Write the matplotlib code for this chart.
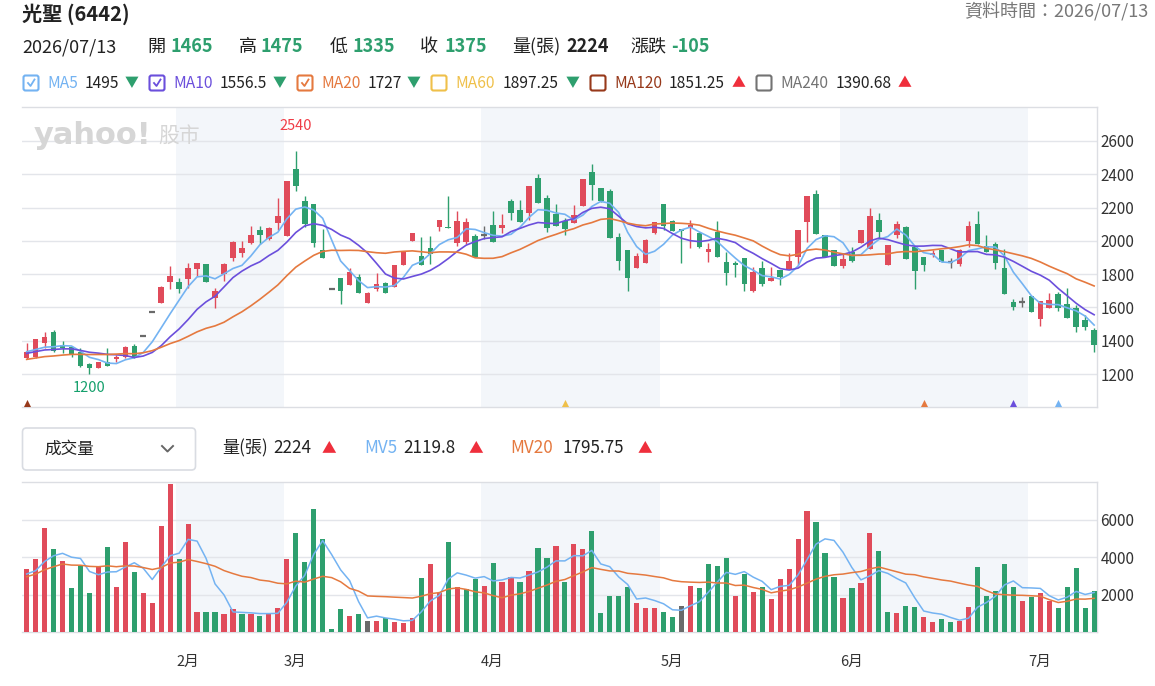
import numpy as np
import pandas as pd
import matplotlib
matplotlib.use("Agg")
import matplotlib.pyplot as plt
from matplotlib.patches import FancyBboxPatch
from matplotlib.lines import Line2D
from matplotlib.transforms import IdentityTransform, blended_transform_factory

plt.rcParams['font.family'] = ['Noto Sans CJK TC', 'DejaVu Sans']

# daily K-line 光聖 (6442), 2026/01 .. 2026/07/13
opens = [1298, 1304, 1384, 1454, 1374, 1360, 1334, 1258, 1238, 1272,
         1288, 1304, 1370, 1430, 1570, 1628, 1754, 1750, 1770, 1830,
         1858, 1658, 1800, 1898, 1930, 1988, 2068, 2014, 2108, 2030,
         2434, 2238, 2224, 1948, 1710, 1774, 1732, 1782, 1628, 1708,
         1744, 1724, 1852, 2000, 1908, 1960, 2084, 2086, 1988, 1992,
         2028, 2034, 2096, 2076, 2238, 2188, 2168, 2380, 2260, 2164,
         2120, 2110, 2208, 2414, 2320, 2300, 2024, 1948, 1834, 1868,
         2048, 2224, 2120, 2072, 2080, 2050, 1934, 2052, 1870, 1864,
         1894, 1700, 1834, 1760, 1824, 1828, 1900, 2114, 2284, 2034,
         1948, 1850, 1934, 1988, 1950, 2128, 1854, 2034, 2084, 1964,
         1904, 1914, 1948, 1870, 1858, 2000, 2104, 1970, 1984, 1834,
         1630, 1634, 1668, 1530, 1594, 1678, 1618, 1594, 1524, 1465]
highs = [1384, 1410, 1450, 1464, 1400, 1364, 1354, 1268, 1274, 1354,
         1314, 1368, 1378, 1430, 1570, 1730, 1850, 1774, 1864, 1868,
         1858, 1714, 1864, 1998, 1998, 2088, 2088, 2084, 2260, 2360,
         2540, 2268, 2224, 2074, 1710, 1774, 1838, 1798, 1690, 1804,
         1754, 1856, 1934, 2050, 2024, 2028, 2128, 2268, 2180, 2140,
         2044, 2088, 2180, 2164, 2252, 2248, 2330, 2404, 2274, 2224,
         2140, 2218, 2374, 2464, 2320, 2314, 2050, 1948, 1930, 2014,
         2116, 2224, 2128, 2074, 2128, 2054, 1988, 2120, 1934, 1878,
         1894, 1844, 1878, 1844, 1824, 1930, 2068, 2268, 2308, 2034,
         1948, 1930, 1964, 2068, 2200, 2170, 1978, 2120, 2090, 1964,
         1904, 1948, 1948, 1894, 1954, 2120, 2180, 2038, 1994, 1954,
         1648, 1660, 1668, 1638, 1684, 1690, 1714, 1614, 1554, 1475]
lows = [1288, 1294, 1354, 1334, 1328, 1300, 1244, 1200, 1234, 1250,
        1274, 1294, 1294, 1430, 1570, 1628, 1708, 1688, 1714, 1790,
        1754, 1594, 1760, 1880, 1904, 1984, 1984, 2004, 2068, 2030,
        2300, 2084, 1964, 1898, 1710, 1618, 1732, 1688, 1628, 1700,
        1688, 1724, 1852, 2000, 1852, 1860, 2060, 2078, 1968, 1984,
        1904, 2014, 1996, 2048, 2128, 2114, 2124, 2228, 2054, 2088,
        2034, 2110, 2208, 2244, 2234, 2020, 1824, 1700, 1834, 1864,
        2044, 2064, 2060, 1868, 1958, 1960, 1874, 1904, 1734, 1784,
        1700, 1694, 1728, 1760, 1734, 1828, 1854, 1994, 2040, 1900,
        1848, 1838, 1870, 1988, 1950, 2020, 1854, 2020, 1890, 1708,
        1820, 1904, 1874, 1834, 1848, 1964, 1980, 1934, 1828, 1680,
        1584, 1600, 1574, 1490, 1594, 1580, 1538, 1450, 1464, 1335]
closes = [1330, 1408, 1420, 1340, 1354, 1320, 1250, 1238, 1272, 1250,
          1304, 1364, 1300, 1430, 1570, 1725, 1788, 1708, 1834, 1864,
          1754, 1700, 1858, 1994, 1958, 2038, 2034, 2080, 2148, 2360,
          2330, 2100, 1988, 1898, 1710, 1700, 1810, 1688, 1688, 1738,
          1688, 1856, 1934, 2050, 1852, 1924, 2128, 2078, 2120, 2112,
          1904, 2034, 1996, 2096, 2168, 2114, 2330, 2228, 2078, 2088,
          2074, 2158, 2374, 2338, 2240, 2020, 1880, 1778, 1910, 2008,
          2112, 2088, 2060, 2060, 2094, 1964, 1954, 1904, 1808, 1852,
          1740, 1814, 1740, 1774, 1784, 1878, 2068, 2268, 2040, 1900,
          1848, 1888, 1880, 2068, 2150, 2054, 1978, 2104, 1890, 1820,
          1854, 1928, 1874, 1870, 1948, 2088, 1980, 1934, 1864, 1680,
          1600, 1634, 1574, 1638, 1644, 1594, 1538, 1484, 1480, 1375]
volumes = [3376, 3893, 5546, 4426, 3819, 2346, 3552, 2080, 3552, 4549,
           2416, 4816, 3216, 2080, 1546, 5685, 7893, 3893, 5760, 1083,
           1083, 1083, 960, 1226, 960, 960, 885, 960, 1296, 3893,
           5296, 3749, 6560, 4960, 160, 1226, 885, 960, 619, 619,
           746, 565, 512, 746, 2896, 3626, 2080, 4832, 2416, 2293,
           2826, 2485, 3680, 2682, 2949, 2682, 3285, 4496, 3962, 4618,
           2682, 4693, 4426, 5418, 1013, 1952, 1952, 2416, 1546, 1280,
           1280, 1083, 816, 1419, 2485, 2362, 3626, 3552, 3962, 1952,
           3093, 2149, 2416, 1760, 2826, 3360, 4960, 6485, 5882, 4229,
           2949, 1829, 2362, 2613, 5296, 4352, 1083, 1013, 1419, 1349,
           816, 549, 693, 549, 619, 1349, 3482, 1952, 2219, 3626,
           2416, 1685, 1883, 2096, 1685, 1280, 2416, 3429, 1280, 2224]
# sessions before the window (only feed the moving averages at the left edge)
prior_closes = [1240, 1255, 1262, 1248, 1236, 1250, 1258, 1266, 1252, 1253,
                1300, 1322, 1310, 1318, 1320, 1342, 1350, 1325, 1323]
prior_volumes = [1100, 900, 1200, 944, 3500, 3700, 3300, 3900, 3600, 3400,
                 3800, 3500, 3700, 3611, 3600, 3000, 3100, 2900, 3169]

month_labels = ['2月', '3月', '4月', '5月', '6月', '7月']
month_starts = [17, 29, 51, 71, 91, 112]
price_ticks = [1200, 1400, 1600, 1800, 2000, 2200, 2400, 2600]
vol_ticks = [2000, 4000, 6000]

ma_periods = [5, 10, 20, 60, 120, 240]
ma_names = ['MA5', 'MA10', 'MA20', 'MA60', 'MA120', 'MA240']
ma_last = ['1495', '1556.5', '1727', '1897.25', '1851.25', '1390.68']
ma_dir = [-1, -1, -1, -1, 1, 1]
ma_shown = [True, True, True, False, False, False]

W, H = 1155, 686
RED = '#e04b5a'
GREEN = '#2e9f6e'
GRAY = '#6a6a6a'
UP = '#ef2f3c'
TXT = '#222222'
GRID = '#e3e5ea'
BAND = '#f3f6fa'
MA_COL = ['#74b3f2', '#6b4fdc', '#e5793f', '#efc04a', '#97391b', '#737373']

n = len(closes)
x = np.arange(n)
o = np.array(opens, float)
h = np.array(highs, float)
l = np.array(lows, float)
c = np.array(closes, float)
v = np.array(volumes, float)

cl_all = pd.Series(prior_closes + closes, dtype=float)
vo_all = pd.Series(prior_volumes + volumes, dtype=float)
ma = [cl_all.rolling(p).mean().values[-n:] for p in ma_periods[:3]]
mv5 = vo_all.rolling(5).mean().values[-n:]
mv20 = vo_all.rolling(20).mean().values[-n:]

ccol = np.where(c > o, RED, np.where(c < o, GREEN, GRAY))
prev_c = np.r_[prior_closes[-1], c[:-1]]
vcol = np.where(c > prev_c, RED, np.where(c < prev_c, GREEN, GRAY))

fig = plt.figure(figsize=(W / 100, H / 100), dpi=100)


def T(px, py, s, **kw):
    kw.setdefault('va', 'center')
    kw.setdefault('ha', 'left')
    return fig.text(px / W, 1 - py / H, s, **kw)


def axes_px(left, top, right, bottom):
    return fig.add_axes([left / W, 1 - bottom / H, (right - left) / W, (bottom - top) / H])


ax = axes_px(22, 107, 1097, 407)
axv = axes_px(22, 482.3, 1097, 632.3)
xl = (-0.52, 119.32)

bounds = [s - 0.35 for s in month_starts]
for a in (ax, axv):
    a.set_xlim(*xl)
    for k in range(0, len(bounds) - 1, 2):
        a.axvspan(bounds[k], bounds[k + 1], color=BAND, zorder=0, lw=0)
    a.grid(axis='y', color=GRID, lw=1, zorder=0.5)
    a.set_axisbelow(True)
    a.spines['left'].set_visible(False)
    for s in ('top', 'right', 'bottom'):
        a.spines[s].set_color('#dcdee3')
        a.spines[s].set_linewidth(1)
    a.yaxis.tick_right()
    a.tick_params(axis='y', length=0, pad=2.5, labelsize=11, labelcolor='#333333')

# price panel
ax.set_ylim(1002, 2804)
ax.set_yticks(price_ticks)
ax.set_xticks([])
ax.vlines(x, l, h, colors=ccol, lw=1, zorder=2)
body = np.abs(c - o)
ax.bar(x, body, bottom=np.minimum(o, c), width=0.62, color=ccol, zorder=3, lw=0)
flat = c == o
ax.hlines(o[flat], x[flat] - 0.32, x[flat] + 0.32, colors=GRAY, lw=1.6, zorder=3)
for k in range(3):
    ax.plot(x, ma[k], color=MA_COL[k], lw=1.2, zorder=4)

imax = int(np.argmax(h))
imin = int(np.argmin(l))
ax.annotate(f'{int(h[imax])}', (imax, h[imax]), xytext=(0, 18), textcoords='offset points',
            ha='center', va='center', color='#f03c46', fontsize=10.5)
ax.annotate(f'{int(l[imin])}', (imin, l[imin]), xytext=(0, -10), textcoords='offset points',
            ha='center', va='center', color='#15a06c', fontsize=10.5)

# MA start markers
tb = blended_transform_factory(ax.transData, ax.transAxes)
for p, col in zip(ma_periods, MA_COL):
    if n - p >= 0:
        ax.scatter([n - p], [0.012], marker='^', s=26, color=col, transform=tb,
                   zorder=5, clip_on=False, lw=0)

ax.text(0.0105, 0.905, 'yahoo!', transform=ax.transAxes, fontsize=22, fontweight='heavy',
        color='#d6d6d6', family='DejaVu Sans', va='center', zorder=1)
ax.text(0.1265, 0.905, '股市', transform=ax.transAxes, fontsize=15,
        color='#d6d6d6', va='center', zorder=1)

# volume panel
axv.set_ylim(0, 8000)
axv.set_yticks(vol_ticks)
axv.bar(x, v, width=0.58, color=vcol, zorder=3, lw=0)
axv.plot(x, mv5, color=MA_COL[0], lw=1.1, zorder=4)
axv.plot(x, mv20, color=MA_COL[2], lw=1.1, zorder=4)
axv.set_xticks(bounds)
axv.set_xticklabels(month_labels, ha='left')
axv.tick_params(axis='x', length=0, pad=16, labelsize=10.5, labelcolor='#333333')

# header
T(22, 14, '光聖 (6442)', fontsize=14.5, fontweight='bold', color=TXT)
T(1148, 12, '資料時間：2026/07/13', fontsize=13, color='#777777', ha='right')

row2 = [(22, '2026/07/13', TXT, 'normal'),
        (147, '開', TXT, 'normal'), (170, '1465', GREEN, 'bold'),
        (239, '高', TXT, 'normal'), (261, '1475', GREEN, 'bold'),
        (330, '低', TXT, 'normal'), (353, '1335', GREEN, 'bold'),
        (420, '收', TXT, 'normal'), (444, '1375', GREEN, 'bold'),
        (512, '量(張)', TXT, 'normal'), (566, '2224', TXT, 'bold'),
        (630, '漲跌', TXT, 'normal'), (671, '-105', GREEN, 'bold')]
for px, s, col, wt in row2:
    T(px, 47, s, fontsize=13, color=col, fontweight=wt)

# MA legend row: name / value / arrow left edges in px
leg_name_x = [47, 173, 321, 455, 614, 780]
leg_val_x = [85, 220, 368, 503, 669, 836]
leg_arr_x = [125, 273, 407, 566, 732, 898]
for k in range(6):
    col = MA_COL[k]
    bx = leg_name_x[k] - 23.5
    box = FancyBboxPatch((bx, H - 90.5), 15, 15, boxstyle='round,pad=0,rounding_size=2',
                         transform=IdentityTransform(), fc='white', ec=col, lw=1.5)
    fig.patches.append(box)
    if ma_shown[k]:
        fig.lines.append(Line2D([bx + 4.5, bx + 7, bx + 11], [H - 83, H - 86, H - 79.5],
                                transform=IdentityTransform(), color=col, lw=1.3))
    T(leg_name_x[k], 83, ma_names[k], fontsize=11.2, color=col)
    T(leg_val_x[k], 83, ma_last[k], fontsize=11.2, color=TXT)
    T(leg_arr_x[k], 83.5, '▼' if ma_dir[k] < 0 else '▲', fontsize=10,
      color=GREEN if ma_dir[k] < 0 else UP)

# volume header
dd = FancyBboxPatch((22.5, H - 470), 173, 42, boxstyle='round,pad=0,rounding_size=4',
                    transform=IdentityTransform(), fc='white', ec='#d9dce2', lw=1.2)
fig.patches.append(dd)
T(44, 449, '成交量', fontsize=12, color=TXT)
fig.lines.append(Line2D([162, 167.5, 173], [H - 446, H - 451.5, H - 446],
                        transform=IdentityTransform(), color='#666666', lw=1.4))
vh = [(222, '量(張)', TXT), (273, '2224', TXT), (322, '▲', UP),
      (364, 'MV5', MA_COL[0]), (403, '2119.8', TXT), (469, '▲', UP),
      (510, 'MV20', MA_COL[2]), (562, '1795.75', TXT), (638, '▲', UP)]
for px, s, col in vh:
    T(px, 448, s, fontsize=12.3 if s != '▲' else 10.5, color=col)

fig.savefig('out.png', dpi=100)
